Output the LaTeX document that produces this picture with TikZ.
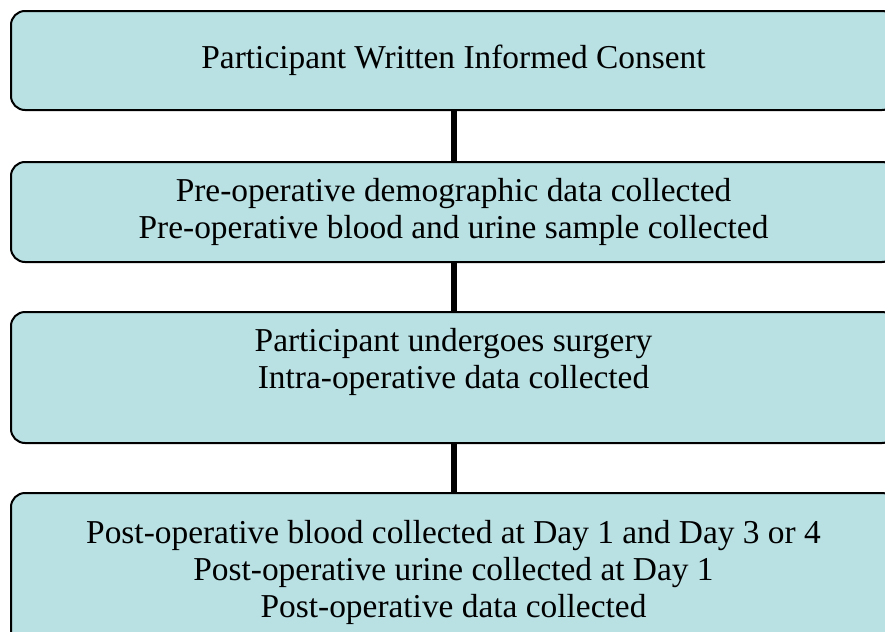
\documentclass[tikz,border=0pt]{standalone}
\usepackage{fontspec}
\setmainfont{Liberation Serif}
\usetikzlibrary{positioning}
\definecolor{boxfill}{HTML}{B9E0E3}
\tikzset{
  sbox/.style={draw=black,fill=boxfill,rounded corners=7pt,line width=1pt,align=center,minimum width=442.5pt,inner sep=0pt},
  sline/.style={line width=3pt,draw=black}
}
\begin{document}
\begin{tikzpicture}[font=\fontsize{16.7}{18.5}\selectfont,node distance=24pt]
  \useasboundingbox (0,0) rectangle (442.5pt,-316pt);
  \clip (0,0) rectangle (442.5pt,-316pt);
  \node[sbox,minimum height=49.5pt] (consent) at (226.75pt,-30.25pt) {Participant Written Informed Consent};
  \node[sbox,minimum height=50pt,below=25pt of consent] (preop) {Pre-operative demographic data collected\\
     Pre-operative blood and urine sample collected};
  \node[sbox,minimum height=65.5pt,below=of preop] (surgery) {Participant undergoes surgery\\
     Intra-operative data collected\\[-5pt]\strut};
  \node[sbox,minimum height=79pt,below=of surgery] (postop) {Post-operative blood collected at Day 1 and Day 3 or 4\\
     Post-operative urine collected at Day 1\\
     Post-operative data collected};
  \draw[sline] (consent) -- (preop);
  \draw[sline] (preop) -- (surgery);
  \draw[sline] (surgery) -- (postop);
\end{tikzpicture}
\end{document}
